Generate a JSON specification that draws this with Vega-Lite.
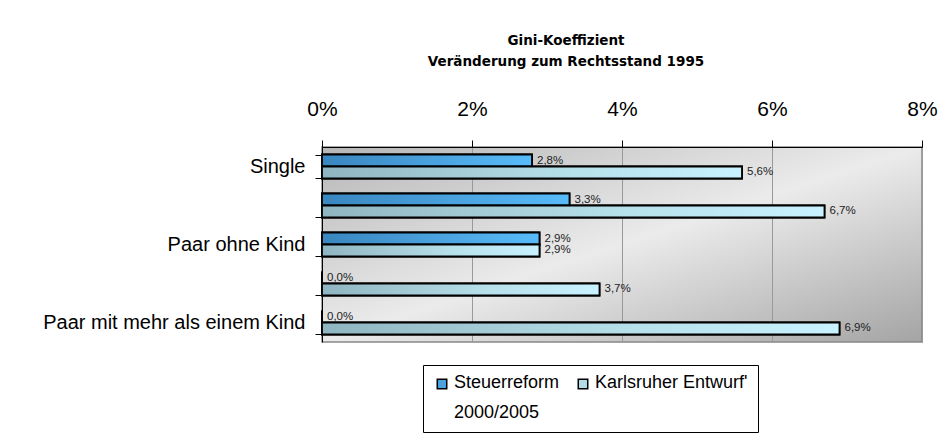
{
  "$schema": "https://vega.github.io/schema/vega-lite/v6.json",
  "autosize": {"type": "none"},
  "padding": {"left": 322, "top": 147, "right": 30, "bottom": 97},
  "width": 600,
  "height": 195,
  "background": "white",
  "title": {
    "text": ["Gini-Koeffizient", "Veränderung zum Rechtsstand 1995"],
    "font": "DejaVu Sans",
    "fontSize": 13.5,
    "fontWeight": "bold",
    "lineHeight": 21,
    "anchor": "middle",
    "frame": "group",
    "dx": -56,
    "offset": 30,
    "color": "black"
  },
  "data": {
    "values": [
      {"Gruppe": "Single", "Reform": "Steuerreform 2000/2005", "Wert": 0.028},
      {"Gruppe": "Single", "Reform": "Karlsruher Entwurf'", "Wert": 0.056},
      {"Gruppe": "Alleinerziehend", "Reform": "Steuerreform 2000/2005", "Wert": 0.033},
      {"Gruppe": "Alleinerziehend", "Reform": "Karlsruher Entwurf'", "Wert": 0.067},
      {"Gruppe": "Paar ohne Kind", "Reform": "Steuerreform 2000/2005", "Wert": 0.029},
      {"Gruppe": "Paar ohne Kind", "Reform": "Karlsruher Entwurf'", "Wert": 0.029},
      {"Gruppe": "Paar mit einem Kind", "Reform": "Steuerreform 2000/2005", "Wert": 0.0},
      {"Gruppe": "Paar mit einem Kind", "Reform": "Karlsruher Entwurf'", "Wert": 0.037},
      {"Gruppe": "Paar mit mehr als einem Kind", "Reform": "Steuerreform 2000/2005", "Wert": 0.0},
      {"Gruppe": "Paar mit mehr als einem Kind", "Reform": "Karlsruher Entwurf'", "Wert": 0.069}
    ]
  },
  "encoding": {
    "y": {
      "field": "Gruppe",
      "type": "nominal",
      "sort": ["Single", "Alleinerziehend", "Paar ohne Kind", "Paar mit einem Kind", "Paar mit mehr als einem Kind"],
      "scale": {"paddingInner": 0.385, "paddingOuter": 0.1925},
      "title": null,
      "axis": {
        "orient": "left",
        "tickBand": "extent",
        "tickSize": 7,
        "tickColor": "black",
        "domainColor": "black",
        "labelFont": "Liberation Sans",
        "labelFontSize": 20,
        "labelColor": "black",
        "labelPadding": 10,
        "labelLimit": 400,
        "labelExpr": "indexof(['Single','Paar ohne Kind','Paar mit mehr als einem Kind'], datum.value) >= 0 ? datum.value : ''"
      }
    },
    "yOffset": {
      "field": "Reform",
      "type": "nominal",
      "sort": ["Steuerreform 2000/2005", "Karlsruher Entwurf'"],
      "scale": {"paddingInner": 0, "paddingOuter": 0}
    },
    "x": {
      "field": "Wert",
      "type": "quantitative",
      "scale": {"domain": [0, 0.08], "nice": false},
      "title": null,
      "axis": {
        "orient": "top",
        "format": ".0%",
        "values": [0, 0.02, 0.04, 0.06, 0.08],
        "tickSize": 7,
        "tickColor": "black",
        "domainColor": "black",
        "grid": true,
        "gridColor": "#999999",
        "gridWidth": 1,
        "labelFont": "Liberation Sans",
        "labelFontSize": 21,
        "labelColor": "black",
        "labelPadding": 21,
        "labelFlush": false
      }
    }
  },
  "layer": [
    {
      "mark": {"type": "bar", "stroke": "black", "strokeWidth": 1.8},
      "encoding": {
        "color": {
          "field": "Reform",
          "type": "nominal",
          "sort": ["Steuerreform 2000/2005", "Karlsruher Entwurf'"],
          "scale": {"domain": ["Steuerreform 2000/2005", "Karlsruher Entwurf'"], "range": ["#4aa2e0", "#b2dde8"]},
          "legend": {
            "title": null,
            "orient": "none",
            "legendX": 101,
            "legendY": 218,
            "direction": "horizontal",
            "symbolType": "square",
            "symbolSize": 90,
            "symbolStrokeColor": "black",
            "symbolStrokeWidth": 1.5,
            "symbolOpacity": 1,
            "labelFont": "Liberation Sans",
            "labelFontSize": 18,
            "labelColor": "black",
            "labelOffset": 3,
            "labelLimit": 400,
            "columnPadding": 14,
            "padding": 10,
            "strokeColor": "black",
            "fillColor": "white",
            "labelExpr": "datum.value == 'Steuerreform 2000/2005' ? ['Steuerreform', '2000/2005'] : [datum.value, '']",
            "labelBaseline": "top",
            "encode": {
              "labels": {"update": {"lineHeight": {"value": 30}, "dy": {"value": -10}}}
            }
          }
        }
      }
    },
    {
      "mark": {"type": "bar", "stroke": "black", "strokeWidth": 1.8},
      "encoding": {
        "fill": {
          "condition": {
            "test": "datum.Reform == 'Steuerreform 2000/2005'",
            "value": {"gradient": "linear", "x1": 0, "y1": 0, "x2": 1, "y2": 0, "stops": [{"offset": 0, "color": "#3a86bf"}, {"offset": 1, "color": "#58bbfa"}]}
          },
          "value": {"gradient": "linear", "x1": 0, "y1": 0, "x2": 1, "y2": 0, "stops": [{"offset": 0, "color": "#8fb5c0"}, {"offset": 0.6, "color": "#b6e0ea"}, {"offset": 1, "color": "#c8f2ff"}]}
        }
      }
    },
    {
      "mark": {"type": "text", "align": "left", "baseline": "middle", "dx": 5, "font": "Liberation Sans", "fontSize": 11.5, "color": "#222222"},
      "encoding": {
        "text": {"field": "Wert", "type": "quantitative", "format": ".1%"}
      }
    }
  ],
  "config": {
    "locale": {"number": {"decimal": ",", "thousands": ".", "grouping": [3], "currency": ["", " €"]}},
    "view": {
      "stroke": "#888888",
      "strokeWidth": 1.5,
      "fill": {"gradient": "linear", "x1": 0, "y1": 0, "x2": 1, "y2": 1, "stops": [{"offset": 0, "color": "#b6b6b6"}, {"offset": 0.5, "color": "#ebebeb"}, {"offset": 1, "color": "#a4a4a4"}]}
    }
  }
}
